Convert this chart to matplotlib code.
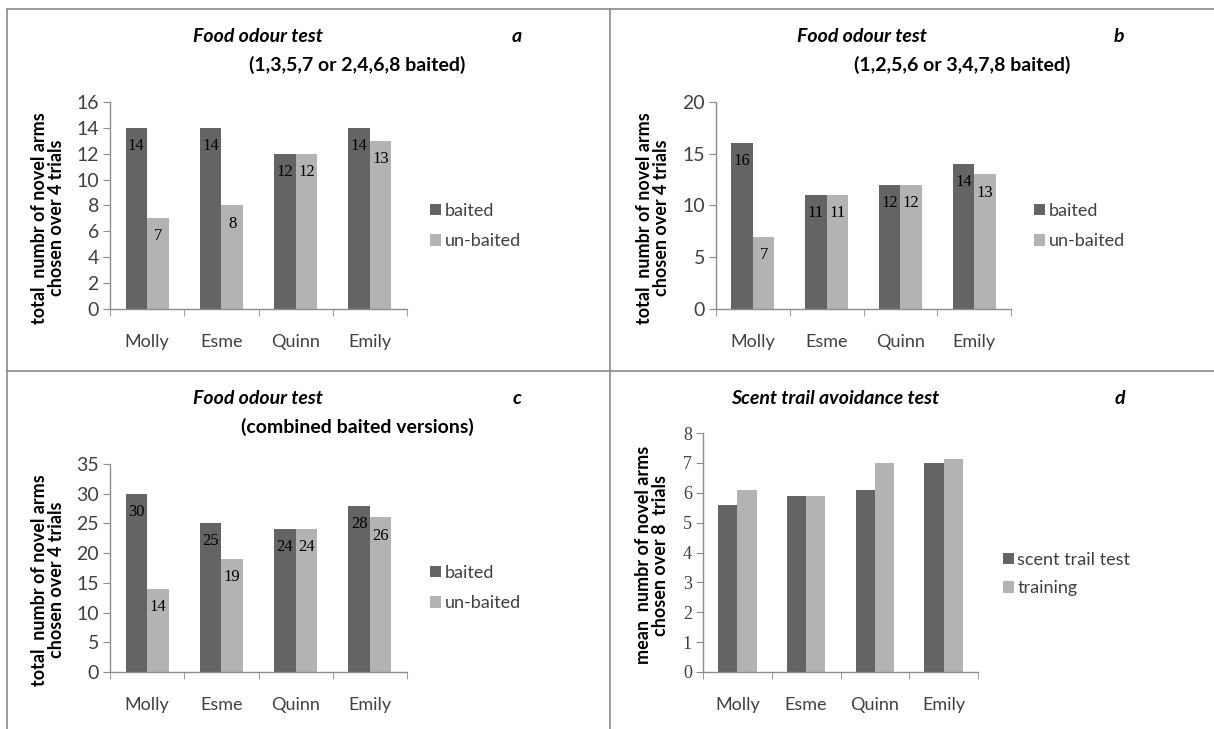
import matplotlib.pyplot as plt
from matplotlib.lines import Line2D

W, H = 1214, 729

dogs = ["Molly", "Esme", "Quinn", "Emily"]

a_baited = [14, 14, 12, 14]
a_unbaited = [7, 8, 12, 13]
b_baited = [16, 11, 12, 14]
b_unbaited = [7, 11, 12, 13]
c_baited = [30, 25, 24, 28]
c_unbaited = [14, 19, 24, 26]
d_scent = [5.6, 5.875, 6.1, 7.0]
d_training = [6.1, 5.875, 7.0, 7.125]

DARK = "#646464"
LIGHT = "#b3b3b3"
AXC = "#8c8c8c"
TXT = "#404040"
SANS = ["Lato", "DejaVu Sans"]
SERIF = ["Liberation Serif", "DejaVu Serif"]

plt.rcParams["font.family"] = SANS

fig = plt.figure(figsize=(W / 100, H / 100), dpi=100)


def px_rect(x0, y0, x1, y1):
    return [x0 / W, 1 - y1 / H, (x1 - x0) / W, (y1 - y0) / H]


def fx(x):
    return x / W


def fy(y):
    return 1 - y / H


def bar_panel(rect, s1, s2, names, ymax, ystep, labels, width, tick_family, tick_size):
    ax = fig.add_axes(px_rect(*rect))
    xs = list(range(len(dogs)))
    b1 = ax.bar([x - width / 2 for x in xs], s1, width, color=DARK, label=names[0])
    b2 = ax.bar([x + width / 2 for x in xs], s2, width, color=LIGHT, label=names[1])
    if labels:
        for bars, vals in ((b1, s1), (b2, s2)):
            for r, v in zip(bars, vals):
                ax.annotate(str(v), (r.get_x() + r.get_width() / 2, v),
                            xytext=(0, -13), textcoords="offset points",
                            ha="center", va="center", fontsize=12,
                            family=SERIF, color="black")
    ax.set_xlim(-0.5, len(dogs) - 0.5)
    ax.set_ylim(0, ymax)
    ax.set_yticks([i * ystep for i in range(int(round(ymax / ystep)) + 1)])
    ax.set_xticks(xs)
    ax.set_xticklabels(dogs)
    ax.set_xticks([x - 0.5 for x in range(len(dogs) + 1)], minor=True)
    ax.tick_params(axis="x", which="major", length=0, pad=18, labelsize=13, labelcolor=TXT)
    ax.tick_params(axis="x", which="minor", length=5, color=AXC, direction="out")
    ax.tick_params(axis="y", length=5, color=AXC, direction="out", pad=3,
                   labelsize=tick_size, labelcolor=TXT, labelfontfamily=tick_family)
    for s in ("top", "right"):
        ax.spines[s].set_visible(False)
    for s in ("left", "bottom"):
        ax.spines[s].set_color(AXC)
        ax.spines[s].set_linewidth(1.0)
    return ax


def legend(ax, x, y, spacing):
    ax.legend(loc="center left", bbox_to_anchor=(fx(x), fy(y)),
              bbox_transform=fig.transFigure, frameon=False,
              handlelength=0.6, handleheight=0.6, handletextpad=0.2,
              labelspacing=spacing, fontsize=13, labelcolor=TXT,
              borderpad=0, borderaxespad=0)


def titles(cx, y, title, sub_x, sub, letter_x, letter):
    fig.text(fx(cx), fy(y), title, ha="center", va="center", fontsize=14,
             fontweight="bold", style="italic")
    if sub:
        fig.text(fx(sub_x), fy(y + 28), sub, ha="center", va="center",
                 fontsize=14, fontweight="bold")
    fig.text(fx(letter_x), fy(y), letter, ha="center", va="center", fontsize=14,
             fontweight="bold", style="italic")


def ylabel(x, y, text):
    fig.text(fx(x), fy(y), text, ha="center", va="center", rotation=90,
             fontsize=13, fontweight="bold", linespacing=1.05)


# panel a
ax = bar_panel((110, 102, 407, 309), a_baited, a_unbaited, ["baited", "un-baited"],
               16, 2, True, 0.29, "Lato", 14)
legend(ax, 430, 226, 0.8)
titles(258, 37, "Food odour test", 357, "(1,3,5,7 or 2,4,6,8 baited)", 517, "a")
ylabel(48, 218, "total  numbr of novel arms\nchosen over 4 trials")

# panel b
ax = bar_panel((716, 102, 1011, 309), b_baited, b_unbaited, ["baited", "un-baited"],
               20, 5, True, 0.29, "Lato", 14)
legend(ax, 1034, 226, 0.8)
titles(862, 37, "Food odour test", 962, "(1,2,5,6 or 3,4,7,8 baited)", 1119, "b")
ylabel(653, 218, "total  numbr of novel arms\nchosen over 4 trials")

# panel c
ax = bar_panel((110, 464, 407, 672), c_baited, c_unbaited, ["baited", "un-baited"],
               35, 5, True, 0.29, "Lato", 14)
legend(ax, 430, 588, 0.8)
titles(258, 399, "Food odour test", 357, "(combined baited versions)", 517, "c")
ylabel(48, 580, "total  numbr of novel arms\nchosen over 4 trials")

# panel d
ax = bar_panel((703, 433, 978, 672), d_scent, d_training, ["scent trail test", "training"],
               8, 1, False, 0.28, "Liberation Serif", 13)
legend(ax, 1003, 574, 0.7)
titles(835, 399, "Scent trail avoidance test", 0, None, 1120, "d")
ylabel(652, 555, "mean  numbr of novel arms\nchosen over 8  trials")

# panel borders
for xs, ys in (((7, 7), (9, H)), ((7, W), (9, 9)), ((610, 610), (9, H)), ((7, W), (371, 371))):
    fig.add_artist(Line2D([fx(v) for v in xs], [fy(v) for v in ys],
                          transform=fig.transFigure, color="#8a8a8a", lw=1.2))

fig.savefig("out.png", dpi=100)
